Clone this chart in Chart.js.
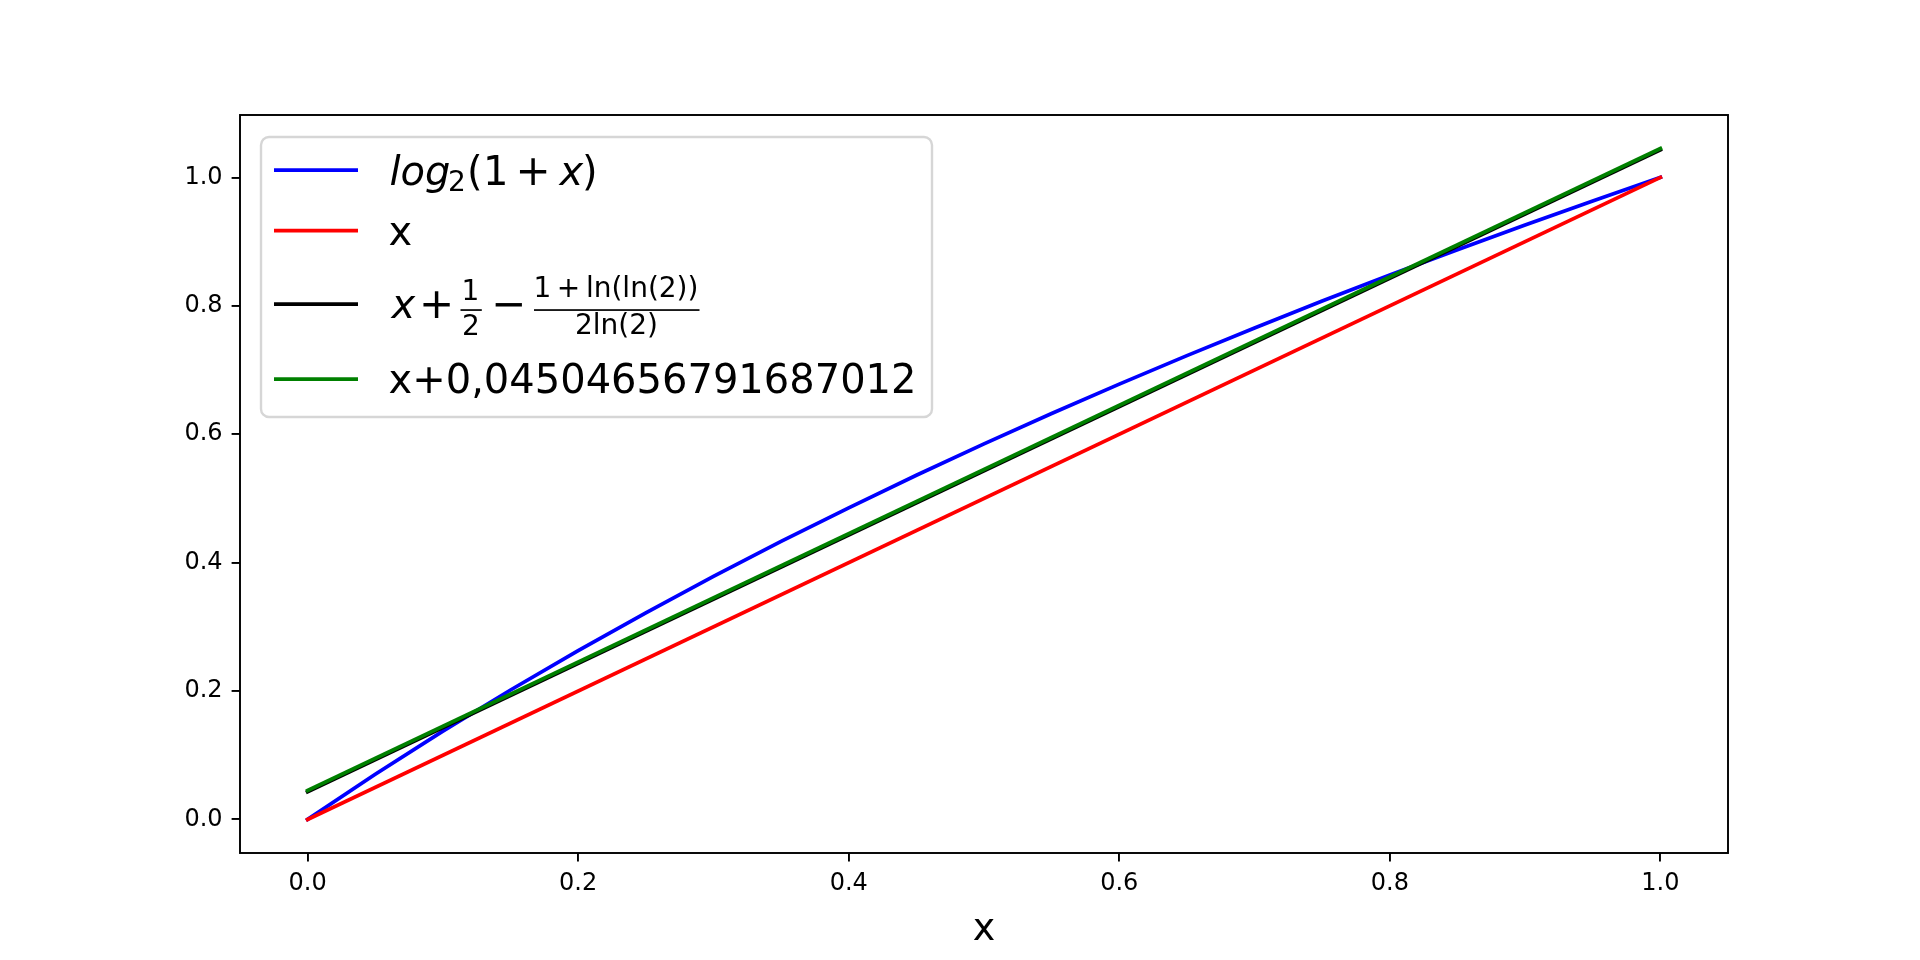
<!DOCTYPE html>
<html>
<head>
<meta charset="utf-8">
<script src="https://cdn.jsdelivr.net/npm/chart.js@4/dist/chart.umd.min.js"></script>
<style>
  html, body { margin: 0; padding: 0; background: #ffffff; }
  #wrap { width: 1920px; height: 960px; }
</style>
</head>
<body>
<div id="wrap"><canvas id="c" width="1920" height="960"></canvas></div>
<script>
// ---- data ----
const curveX = [0, 0.05, 0.1, 0.15, 0.2, 0.25, 0.3, 0.35, 0.4, 0.45, 0.5,
                0.55, 0.6, 0.65, 0.7, 0.75, 0.8, 0.85, 0.9, 0.95, 1];
const log2Values = [0, 0.0704, 0.1375, 0.2016, 0.2630, 0.3219, 0.3785, 0.4330, 0.4854, 0.5361, 0.5850,
                    0.6323, 0.6781, 0.7225, 0.7655, 0.8074, 0.8480, 0.8875, 0.9260, 0.9635, 1];
const lineX = [0, 1];
const identityValues = [0, 1];
const approxValues = [0.0430, 1.0430];
const offsetValues = [0.0450, 1.0450];
const seriesNames = ['log2(1+x)', 'x', 'x+1/2-(1+ln(ln(2)))/(2ln(2))', 'x+0,04504656791687012'];
const seriesColors = ['#0000ff', '#ff0000', '#000000', '#008000'];
const xTickValues = [0, 0.2, 0.4, 0.6, 0.8, 1.0];
const yTickValues = [0, 0.2, 0.4, 0.6, 0.8, 1.0];
const xAxisTitle = 'x';

const pts = (xs, ys) => xs.map((x, i) => ({ x: x, y: ys[i] }));
const FONT = "'DejaVu Sans'";
Chart.defaults.color = '#000000';
Chart.defaults.font.family = FONT;
const LW = 3.75;

const lineStyle = (i) => ({
  label: seriesNames[i],
  order: seriesNames.length - 1 - i,   // later series drawn on top, like matplotlib
  borderColor: seriesColors[i],
  backgroundColor: seriesColors[i],
  borderWidth: LW,
  borderCapStyle: 'square',
  borderJoinStyle: 'round',
  pointRadius: 0,
  pointHoverRadius: 0,
  tension: 0,
  fill: false,
  showLine: true
});

const frameBox = {
  id: 'frameBox',
  afterDatasetsDraw(chart) {
    const { ctx, chartArea: a } = chart;
    ctx.save();
    ctx.strokeStyle = '#000000';
    ctx.lineWidth = 1.92;
    ctx.strokeRect(a.left, a.top, a.right - a.left, a.bottom - a.top);
    ctx.restore();
  }
};

const mathLegend = {
  id: 'mathLegend',
  afterDraw(chart) {
    const ctx = chart.ctx;
    ctx.save();
    // frame
    const bx = 261, by = 137, bw = 671, bh = 280, r = 8;
    ctx.beginPath();
    ctx.roundRect(bx, by, bw, bh, r);
    ctx.fillStyle = 'rgba(255,255,255,0.8)';
    ctx.fill();
    ctx.lineWidth = 2.4;
    ctx.strokeStyle = '#d6d6d6';
    ctx.stroke();

    const rows = [170, 230.5, 304, 379];
    const hx0 = 274, hx1 = 358;
    rows.forEach((y, i) => {
      ctx.beginPath();
      ctx.moveTo(hx0, y);
      ctx.lineTo(hx1, y);
      ctx.lineWidth = LW;
      ctx.lineCap = 'butt';
      ctx.strokeStyle = seriesColors[i];
      ctx.stroke();
    });

    const big = 40, small = 28;
    const f = (size, italic) => (italic ? 'italic ' : '') + size + 'px ' + FONT;
    ctx.fillStyle = '#000000';
    ctx.textBaseline = 'alphabetic';
    ctx.textAlign = 'left';
    // place text so that its ink starts at inkLeft
    const ink = (s, inkLeft, y, size, italic) => {
      ctx.font = f(size, italic);
      ctx.textAlign = 'left';
      const m = ctx.measureText(s);
      ctx.fillText(s, inkLeft + m.actualBoundingBoxLeft, y);
    };
    // place text so that its ink is centred on cx
    const inkC = (s, cx, y, size, italic) => {
      ctx.font = f(size, italic);
      ctx.textAlign = 'left';
      const m = ctx.measureText(s);
      const w = m.actualBoundingBoxLeft + m.actualBoundingBoxRight;
      ctx.fillText(s, cx - w / 2 + m.actualBoundingBoxLeft, y);
    };
    // row 1: log_2(1 + x)
    ink('log', 390.5, 185, big, true);
    ink('2', 450, 191, small, false);
    ink('(', 470, 185, big, false);
    ink('1', 487, 185, big, false);
    inkC('+', 533, 185, big + 2, false);
    ink('x', 557.5, 185, big, true);
    ink(')', 585, 185, big, false);
    // row 2: x
    ink('x', 389.5, 245, big, false);
    // row 3: x + 1/2 - (1 + ln(ln(2)))/(2ln(2))
    ink('x', 389.5, 318, big, true);
    inkC('+', 436.5, 318, big + 2, false);
    inkC('1', 471, 300, small, false);
    inkC('2', 471, 335, small, false);
    ctx.fillRect(460.5, 309.2, 21.3, 1.7);
    inkC('\u2212', 508.5, 318, big + 2, false);
    inkC('1\u2009+\u2009ln(ln(2))', 616.5, 297, small, false);
    inkC('2ln(2)', 616.5, 334, small, false);
    ctx.fillRect(534, 309.2, 165.5, 1.7);
    // row 4
    ink('x+0,04504656791687012', 389.5, 393, big, false);
    ctx.restore();
  }
};

const axisCommon = {
  type: 'linear',
  grid: {
    display: true,
    drawOnChartArea: false,
    drawTicks: true,
    tickLength: 8.4,
    tickWidth: 1.92,
    tickColor: '#000000',
    color: '#000000',
    lineWidth: 1.92
  },
  border: { display: false }
};

new Chart(document.getElementById('c'), {
  type: 'line',
  data: {
    datasets: [
      Object.assign({ data: pts(curveX, log2Values) }, lineStyle(0)),
      Object.assign({ data: pts(lineX, identityValues) }, lineStyle(1)),
      Object.assign({ data: pts(lineX, approxValues) }, lineStyle(2)),
      Object.assign({ data: pts(lineX, offsetValues) }, lineStyle(3))
    ]
  },
  options: {
    responsive: false,
    animation: false,
    devicePixelRatio: 1,
    layout: { padding: { left: 0, right: 192, top: 115, bottom: 0 } },
    plugins: { legend: { display: false }, tooltip: { enabled: false } },
    scales: {
      x: Object.assign({}, axisCommon, {
        min: -0.05, max: 1.05,
        afterBuildTicks: (axis) => { axis.ticks = xTickValues.map(v => ({ value: v })); },
        afterFit: (axis) => { axis.height = 107; },
        ticks: {
          autoSkip: false, maxRotation: 0, minRotation: 0, padding: 8,
          font: { family: FONT, size: 24 }, color: '#000000',
          callback: (v) => Number(v).toFixed(1)
        },
        title: {
          display: true, text: xAxisTitle, color: '#000000',
          font: { family: FONT, size: 38, lineHeight: 1.2 },
          padding: { top: 0, bottom: 7 }
        }
      }),
      y: Object.assign({}, axisCommon, {
        min: -0.0523, max: 1.0973,
        afterBuildTicks: (axis) => { axis.ticks = yTickValues.map(v => ({ value: v })); },
        afterFit: (axis) => { axis.width = 240; },
        ticks: {
          autoSkip: false, padding: 9,
          font: { family: FONT, size: 24 }, color: '#000000',
          callback: (v) => Number(v).toFixed(1)
        }
      })
    }
  },
  plugins: [frameBox, mathLegend]
});
</script>
</body>
</html>
